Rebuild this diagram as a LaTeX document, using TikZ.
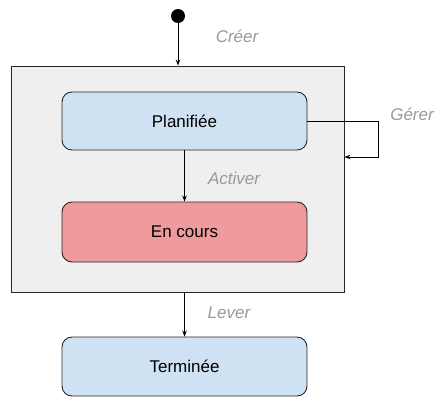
\documentclass[tikz,border=0pt]{standalone}
\usepackage{fontspec}
\setmainfont{Liberation Sans}
\usetikzlibrary{arrows.meta}
\definecolor{boxgray}{HTML}{EFEFEF}
\definecolor{stateblue}{HTML}{CFE2F3}
\definecolor{statered}{HTML}{EF9A9C}
\definecolor{labelgray}{HTML}{999999}
\begin{document}
\begin{tikzpicture}[x=1pt,y=-1pt,line width=0.9pt,
  state/.style={rectangle,rounded corners=10pt,draw=black!85,fill=stateblue,minimum width=245pt,inner sep=0pt,font=\fontsize{17}{20}\selectfont},
  trans/.style={font=\fontsize{17}{20}\selectfont\itshape,text=labelgray},
  arr/.style={-{Stealth[length=6pt,width=4.5pt]}}]
\useasboundingbox (0,0) rectangle (441,407);
\path (177.5,179) node[rectangle,draw=black!85,fill=boxgray,minimum width=333pt,minimum height=226pt] (outer) {};
\path (178,16) node[circle,fill=black,minimum size=14pt,inner sep=0pt] (init) {};
\draw[arr] (init) -- (outer.north -| init);
\path (184.5,121) node[state,minimum height=58pt] (plan) {Planifiée};
\path (184.5,232) node[state,fill=statered,minimum height=60pt] (cours) {En cours};
\draw[arr] (plan) -- (cours);
\path (184.5,366.5) node[state,minimum height=59pt] (term) {Terminée};
\draw[arr] (outer.south -| term) -- (term);

\coordinate (loop) at (378,157);
\draw[arr] (plan.east) -| (loop) -- (loop -| outer.east);

\path (237,36) node[trans] (creer) {Créer};
\path (412,114) node[trans] (gerer) {Gérer};
\path (234,178) node[trans] (activer) {Activer};
\path (229,313) node[trans] (lever) {Lever};
\end{tikzpicture}
\end{document}
